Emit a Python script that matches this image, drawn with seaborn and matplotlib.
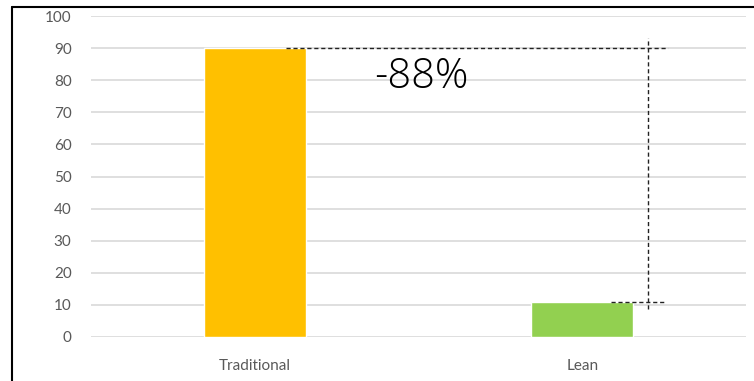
import matplotlib
matplotlib.use("Agg")
import matplotlib.pyplot as plt
from matplotlib.lines import Line2D
import seaborn as sns
import pandas as pd

# data
categories = ["Traditional", "Lean"]
values = [90, 11]
bar_colours = ["#FFC000", "#92D050"]
change_label = "-88%"

df = pd.DataFrame({"method": categories, "value": values})

sns.set_style("white")
plt.rcParams["font.family"] = ["Lato", "DejaVu Sans"]

W, H = 754, 381
fig = plt.figure(figsize=(W / 100, H / 100), dpi=100)
ax = fig.add_axes([91 / W, 44 / H, 655 / W, 321 / H])

sns.barplot(data=df, x="method", y="value", hue="method",
            palette=dict(zip(categories, bar_colours)), width=0.31,
            saturation=1, legend=False, ax=ax, zorder=3)

ax.set_ylim(0, 100)
ax.set_xlim(-0.5, 1.5)
ax.set_yticks(range(0, 101, 10))
ax.yaxis.grid(True, color="#d9d9d9", lw=1.2, zorder=0)
ax.set_axisbelow(True)
for s in ax.spines.values():
    s.set_visible(False)
ax.tick_params(axis="y", length=0, pad=14, labelsize=11, labelcolor="#595959")
ax.tick_params(axis="x", length=0, pad=16, labelsize=11, labelcolor="#595959")
ax.set_xlabel("")
ax.set_ylabel("")

# dashed drop annotation
hi, lo = values[0], values[1]
dash = dict(color="#222222", lw=1, ls=(0, (3, 2)), zorder=4, clip_on=False)
ax.plot([0.095, 1.262], [hi, hi], **dash)
ax.plot([1.088, 1.256], [lo, lo], **dash)
ax.plot([1.20, 1.20], [lo - 2.3, hi + 3.1], **dash)
ax.text(0.51, 81, change_label, ha="center", va="center", fontsize=30,
        color="black", family=["Open Sans", "DejaVu Sans"], fontweight="light")

# frame of the original slide
fig.add_artist(Line2D([12 / W, 12 / W], [0, 1 - 7 / H], color="black", lw=1.5))
fig.add_artist(Line2D([12 / W, 1], [1 - 7 / H, 1 - 7 / H], color="black", lw=1.5))

fig.savefig("out.png", dpi=100)
